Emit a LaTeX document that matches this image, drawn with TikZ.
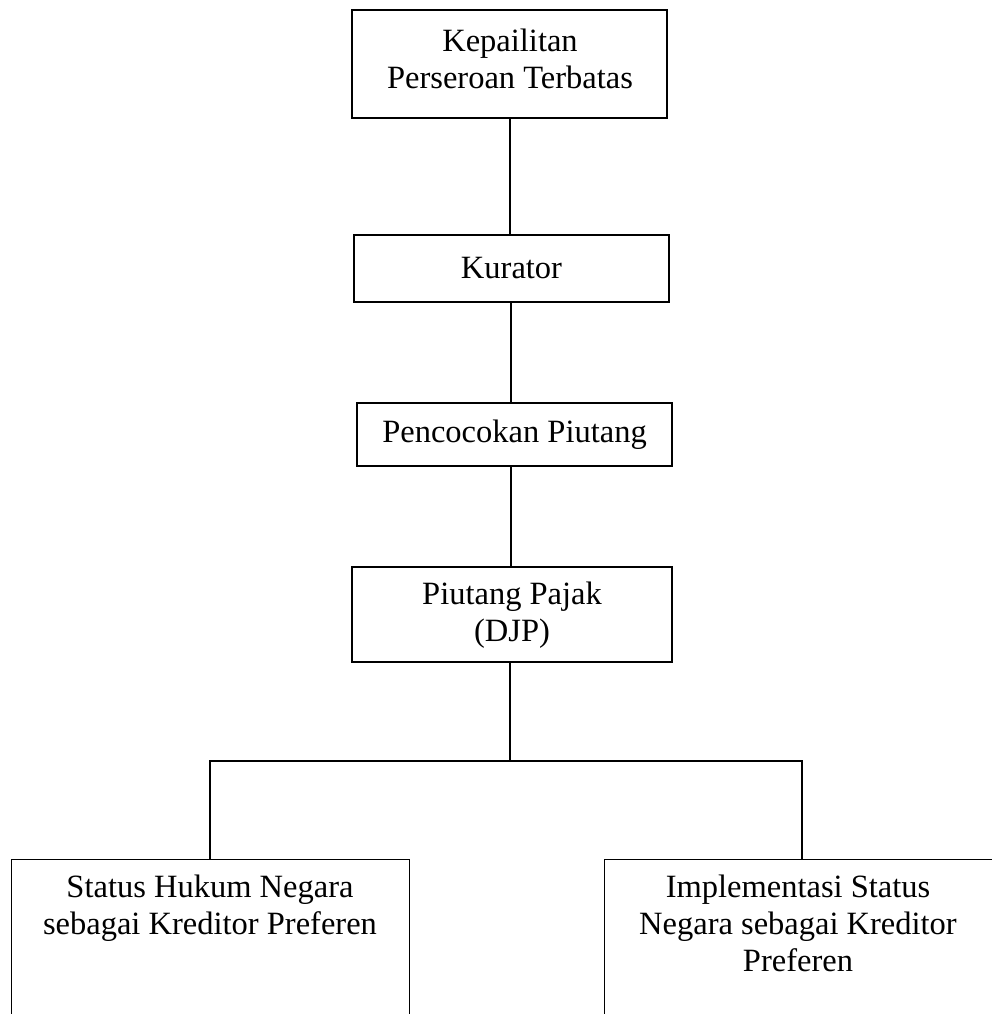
\documentclass[tikz,border=0pt]{standalone}
\usepackage{fontspec}
\setmainfont{Liberation Serif}
\begin{document}
\begin{tikzpicture}[x=1pt,y=-1pt,
  boxline/.style={draw=black,line width=1.4pt},
  box/.style={boxline,rectangle,inner sep=0pt,align=center,
    font=\fontsize{32.5}{37}\selectfont},
  lbl/.style={inner sep=0pt,align=center,font=\fontsize{32.5}{37}\selectfont},
  conn/.style={draw=black,line width=1.4pt}]
\clip (0,0) rectangle (992,1014);
\fill[white] (0,0) rectangle (992,1014);
% top boxes
\node[boxline,rectangle,inner sep=0pt,minimum width=315,minimum height=108] (kep) at (509.5,64) {};
\node[lbl] (kept) at (510,59) {Kepailitan\\Perseroan Terbatas};
\node[box,minimum width=315,minimum height=67] (kur) at (511.5,268.5) {Kurator};
\node[box,minimum width=315,minimum height=63] (pen) at (514.5,434.5) {Pencocokan Piutang};
\node[boxline,rectangle,inner sep=0pt,minimum width=320,minimum height=95] (piu) at (512,614.5) {};
\node[lbl] (piut) at (512,615.5) {Piutang Pajak\\(DJP)};
% bottom boxes (extend beyond the lower edge)
\node[boxline,rectangle,inner sep=0pt,minimum width=398,minimum height=220,anchor=north west] (shn) at (11,859) {};
\node[boxline,rectangle,inner sep=0pt,minimum width=400,minimum height=220,anchor=north west] (isn) at (604,859) {};
\node[lbl,anchor=north] (shnt) at (210,875) {Status Hukum Negara\\sebagai Kreditor Preferen};
\node[lbl,anchor=north] (isnt) at (798,875) {Implementasi Status\\Negara sebagai Kreditor\\Preferen};
% connectors
\draw[conn] (kep.south -| 510,0) -- (kur.north -| 510,0);
\draw[conn] (kur.south -| 511,0) -- (pen.north -| 511,0);
\draw[conn] (pen.south -| 511,0) -- (piu.north -| 511,0);
\coordinate (split) at (510,761);
\draw[conn] (piu.south -| split) -- (split);
\draw[conn] (shn.north -| 210,0) |- (split) -| (isn.north -| 802,0);
\end{tikzpicture}
\end{document}
